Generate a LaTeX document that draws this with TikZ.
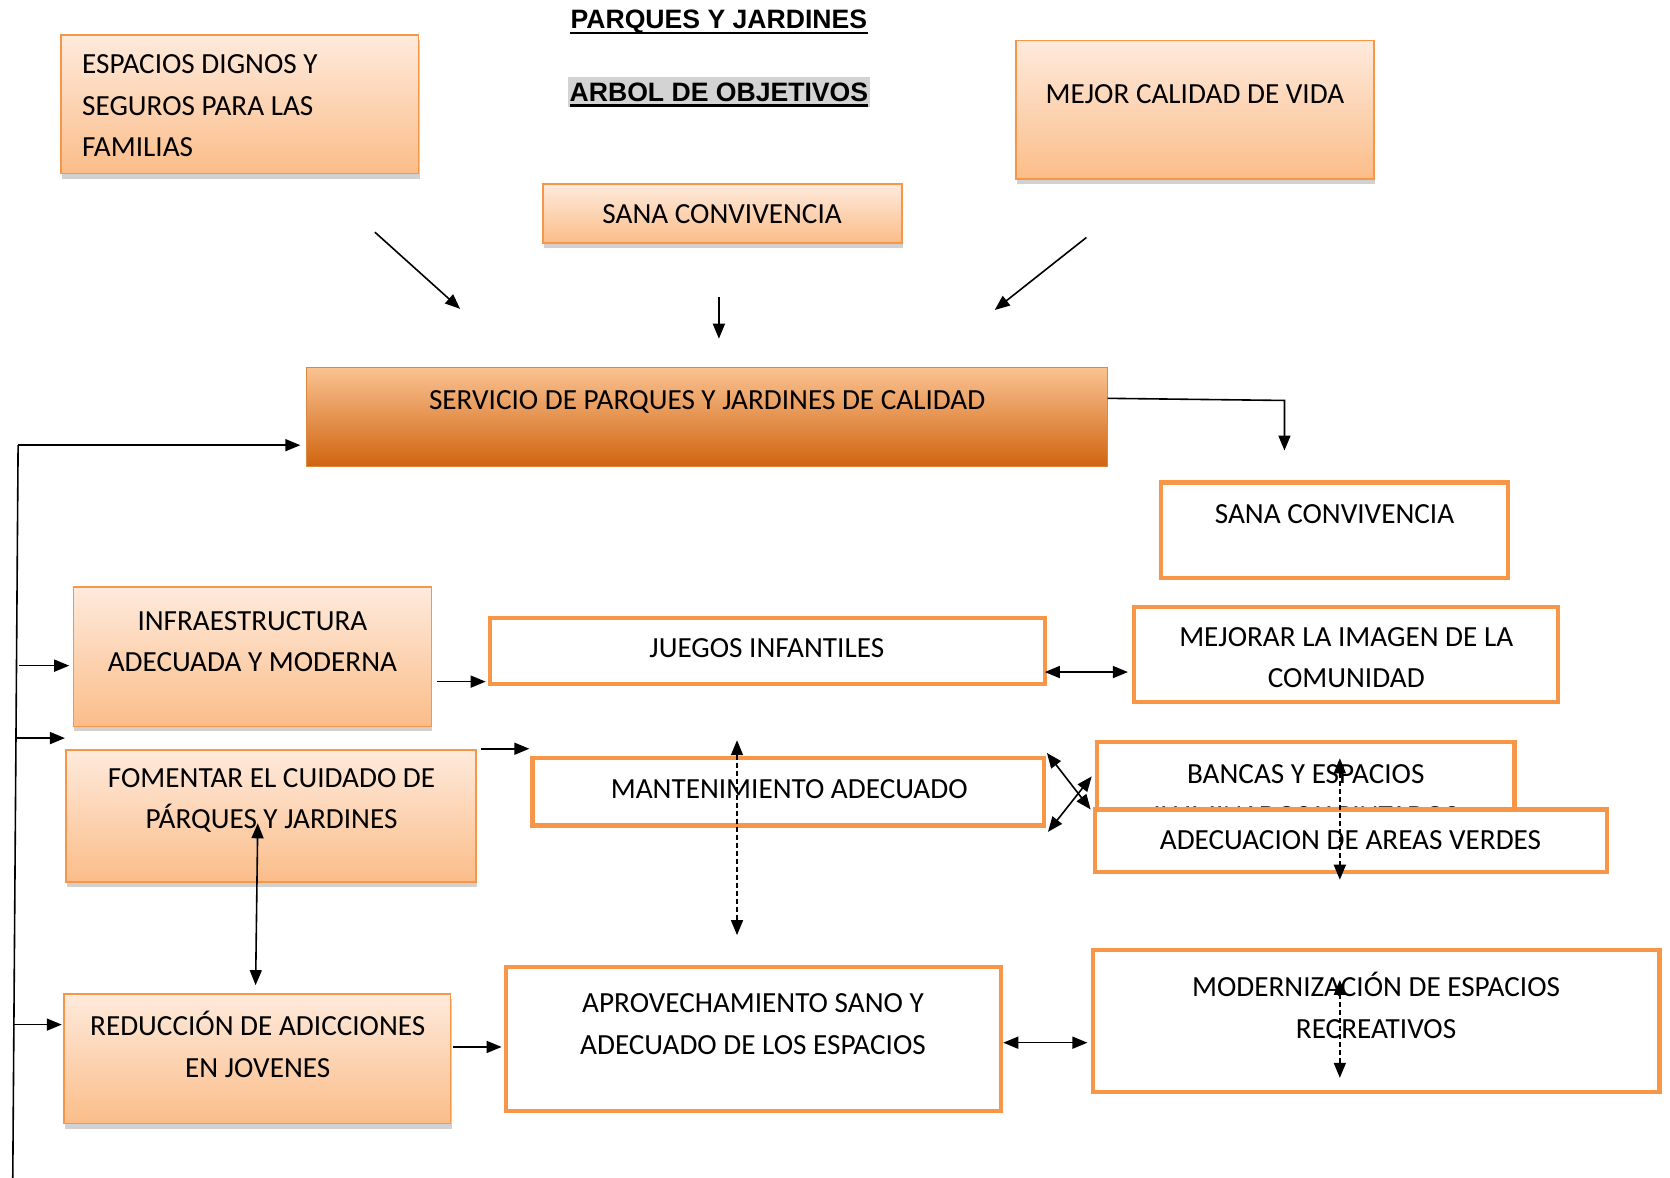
\documentclass[tikz,border=0pt]{standalone}
\usepackage{fontspec}
\newfontfamily\carl{Carlito}
\newfontfamily\titlefont{Liberation Sans}
\usetikzlibrary{shadows,fit,arrows.meta}
\definecolor{ob}{HTML}{F79646}
\definecolor{pt}{HTML}{FEEADC}
\definecolor{pb}{HTML}{FBBD89}
\definecolor{st}{HTML}{FAC292}
\definecolor{sm}{HTML}{F5984A}
\definecolor{sb}{HTML}{D0640F}
\definecolor{hl}{HTML}{D3D3D3}
\begin{document}
\begin{tikzpicture}[x=1.0651pt,y=-1.0651pt,
  lbox/.style={draw=ob,line width=1.6pt,top color=pt,bottom color=pb,inner sep=0pt,
     drop shadow={shadow xshift=1pt,shadow yshift=-5pt,opacity=0.3,fill=black!60}},
  wbox/.style={draw=ob,line width=4.3pt,fill=white,inner sep=0pt},
  dbox/.style={draw=ob!90!black,line width=1pt,top color=st,middle color=sm,bottom color=sb,inner sep=0pt},
  txt/.style={font=\carl\fontsize{29.2}{41.5}\selectfont,inner sep=0pt,align=center},
  ttl/.style={font=\titlefont\bfseries\fontsize{26.6}{30}\selectfont,inner sep=0pt,anchor=base},
  conn/.style={line width=1.6pt},
  arr/.style={conn,-{Triangle[length=15pt,width=12pt]}},
  darr/.style={conn,{Triangle[length=15pt,width=12pt]}-{Triangle[length=15pt,width=12pt]}},
  dsh/.style={dash pattern=on 5pt off 3pt}]
\useasboundingbox (0,0) rectangle (1568,1106);

% titles
\fill[hl] (533,72) rectangle (817,100);
\node[ttl] (tpar) at (675,26.5) {PARQUES Y JARDINES};
\node[ttl] (tarb) at (675,95) {ARBOL DE OBJETIVOS};
\draw[line width=2.4pt] (535,31) -- (815,31);
\draw[line width=2.4pt] (535,99) -- (815,99);

% top boxes
\node[lbox, fit={(57,33) (393,163)}] (espacios) {};
\node[txt, anchor=west, align=left] (tespacios) at (77,99.5) {ESPACIOS DIGNOS Y\\SEGUROS PARA LAS\\FAMILIAS};
\node[lbox, fit={(510,173) (847,228)}] (sana1) {};
\node[txt] (tsana1) at (678,201) {SANA CONVIVENCIA};
\node[lbox, fit={(954,38) (1290,168)}] (mejor) {};
\node[txt] (tmejor) at (1122,88) {MEJOR CALIDAD DE VIDA};

% central box
\node[dbox, fit={(288,345) (1040,438)}] (servicio) {};
\node[txt] (tservicio) at (664,377) {SERVICIO DE PARQUES Y JARDINES DE CALIDAD};

\node[wbox, fit={(1090,453) (1416,543)}] (sana2) {};
\node[txt] (tsana2) at (1253,483) {SANA CONVIVENCIA};

% left column
\node[lbox, fit={(69,551) (405,682)}] (infra) {};
\node[txt] (tinfra) at (237,602.5) {INFRAESTRUCTURA\\ADECUADA Y MODERNA};
\node[lbox, fit={(62,704) (447,828)}] (fomentar) {};
\node[txt] (tfomentar) at (255,751.5) {FOMENTAR EL CUIDADO DE\\PÁRQUES Y JARDINES};
\node[lbox, fit={(60,933) (423,1055)}] (reduccion) {};
\node[txt] (treduccion) at (242,980.5) {REDUCCIÓN DE ADICCIONES\\EN JOVENES};

% middle column
\node[wbox, fit={(460,580) (981,642)}] (juegos) {};
\node[txt] (tjuegos) at (720,609) {JUEGOS INFANTILES};
\node[wbox, fit={(500,712) (980,775)}] (mant) {};
\node[txt] (tmant) at (741,741) {MANTENIMIENTO ADECUADO};
\node[wbox, fit={(475,908) (940,1043)}] (aprov) {};
\node[txt] (taprov) at (707,961.5) {APROVECHAMIENTO SANO Y\\ADECUADO DE LOS ESPACIOS};

% right column
\node[wbox, fit={(1065,570) (1463,659)}] (mejorar) {};
\node[txt] (tmejorar) at (1264,617.5) {MEJORAR LA IMAGEN DE LA\\COMUNIDAD};
\node[wbox, fit={(1030,697) (1422,800)}] (bancas) {};
\node[txt] (tbancas) at (1226,746.5) {BANCAS Y ESPACIOS\\ILUMINADOS Y PINTADOS};
\node[wbox, fit={(1028,760) (1509,819)}] (adec) {};
\node[txt] (tadec) at (1268,789) {ADECUACION DE AREAS VERDES};
\node[wbox, fit={(1026,892) (1558,1025)}] (modern) {};
\node[txt] (tmodern) at (1292,944) {MODERNIZACIÓN DE ESPACIOS\\RECREATIVOS};

% connector end points
\coordinate (a1) at (352,218); \coordinate (a2) at (432,290);
\coordinate (b1) at (675,279); \coordinate (b2) at (675,318);
\coordinate (c1) at (1020,223); \coordinate (c2) at (934,291);
\coordinate (d1) at (1040,374); \coordinate (d2) at (1206,376); \coordinate (d3) at (1206,423);
\coordinate (L1) at (17,418); \coordinate (L2) at (12,1106);
\coordinate (L3) at (282,418);
\coordinate (f1) at (18,625); \coordinate (f2) at (65,625);
\coordinate (g1) at (14,693); \coordinate (g2) at (61,693);
\coordinate (h1) at (12,962); \coordinate (h2) at (58,962);
\coordinate (i1) at (410,640); \coordinate (i2) at (456,640);
\coordinate (j1) at (981,631); \coordinate (j2) at (1059,631);
\coordinate (k1) at (452,703); \coordinate (k2) at (497,703);
\coordinate (m1) at (692,695); \coordinate (m2) at (692,878);
\coordinate (n1) at (983,707); \coordinate (n2) at (1024,760);
\coordinate (o1) at (984,781); \coordinate (o2) at (1025,729);
\coordinate (p1) at (1258,712); \coordinate (p2) at (1258,826);
\coordinate (q1) at (242,773); \coordinate (q2) at (240,925);
\coordinate (r1) at (425,983); \coordinate (r2) at (471,983);
\coordinate (s1) at (942,979); \coordinate (s2) at (1021,979);
\coordinate (u1) at (1258,920); \coordinate (u2) at (1258,1012);

% connectors
\draw[arr] (a1) -- (a2);
\draw[arr] (b1) -- (b2);
\draw[arr] (c1) -- (c2);
\draw[arr] (d1) -- (d2) -- (d3);
\draw[conn] (L1) -- (L2);
\draw[arr] (L1) -- (L3);
\draw[arr] (f1) -- (f2);
\draw[arr] (g1) -- (g2);
\draw[arr] (h1) -- (h2);
\draw[arr] (i1) -- (i2);
\draw[darr] (j1) -- (j2);
\draw[arr] (k1) -- (k2);
\draw[darr,dsh] (m1) -- (m2);
\draw[darr] (n1) -- (n2);
\draw[darr] (o1) -- (o2);
\draw[darr,dsh] (p1) -- (p2);
\draw[darr] (q1) -- (q2);
\draw[arr] (r1) -- (r2);
\draw[darr] (s1) -- (s2);
\draw[darr,dsh] (u1) -- (u2);
\end{tikzpicture}
\end{document}
